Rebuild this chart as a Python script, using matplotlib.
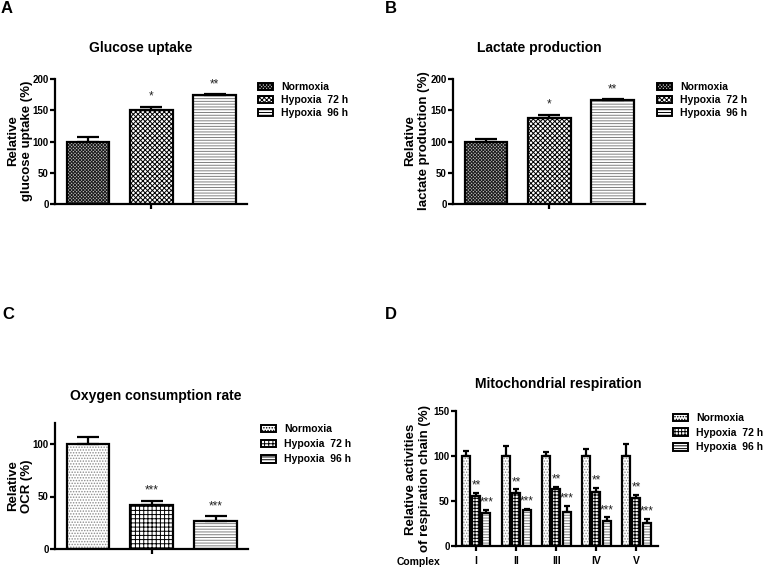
import matplotlib
matplotlib.use("Agg")
import matplotlib.pyplot as plt
import matplotlib.patches as mpatches
import numpy as np

plt.rcParams["font.family"] = ["Liberation Sans", "DejaVu Sans"]
plt.rcParams["font.weight"] = "bold"
plt.rcParams["hatch.linewidth"] = 0.7

groups = ["Normoxia", "Hypoxia  72 h", "Hypoxia  96 h"]

glucose = [100, 150, 174]
glucose_err = [8, 6, 2]
glucose_stars = ["", "*", "**"]

lactate = [100, 138, 166]
lactate_err = [4, 5, 2]
lactate_stars = ["", "*", "**"]

ocr = [100, 42, 27]
ocr_err = [7, 4, 4]
ocr_stars = ["", "***", "***"]

complexes = ["I", "II", "III", "IV", "V"]
resp_normoxia = [100, 100, 100, 100, 100]
resp_normoxia_err = [6, 11, 5, 8, 13]
resp_hyp72 = [56, 59, 63, 60, 53]
resp_hyp72_err = [3, 4, 3, 5, 4]
resp_hyp96 = [37, 40, 38, 28, 26]
resp_hyp96_err = [3, 1, 7, 4, 4]

# fill styles (face colour, hatch, hatch colour)
styles_ab = [("#bdbdbd", "xxxxxxxxxx", "#1a1a1a"),
             ("white", "xxxxxxx", "black"),
             ("white", "------", "#808080")]
styles_c = [("white", "......", "#8c8c8c"),
            ("white", "++++", "black"),
            ("white", "------", "#808080")]
styles_d = [("white", "......", "#8c8c8c"),
            ("white", "+++++", "black"),
            ("white", "------", "#808080")]

W, H = 767, 567
fig = plt.figure(figsize=(W / 100, H / 100), dpi=100)


def px_axes(left, top, right, bottom):
    return fig.add_axes([left / W, 1 - bottom / H, (right - left) / W, (bottom - top) / H])


def draw_bars(ax, x, heights, width, style):
    face, hatch, hcolor = style
    ax.bar(x, heights, width, color=face, edgecolor=hcolor, hatch=hatch,
           linewidth=0, zorder=2)
    ax.bar(x, heights, width, fill=False, edgecolor="black", linewidth=1.6, zorder=3)


def draw_err(ax, x, heights, err, cap):
    x = np.atleast_1d(x)
    ax.errorbar(x, heights, yerr=[np.zeros(len(x)), err], fmt="none", ecolor="black",
                elinewidth=1.6, capsize=cap, capthick=1.6, zorder=4)


def draw_stars(ax, x, heights, err, stars, off):
    for xi, h, e, s in zip(np.atleast_1d(x), heights, err, stars):
        if s:
            ax.annotate(s, (xi, h + e), xytext=(0, off), textcoords="offset points",
                        ha="center", va="baseline", fontsize=8.5, fontweight="normal",
                        color="#222222")


def style_axis(ax, ymax, yticks):
    for s in ["top", "right"]:
        ax.spines[s].set_visible(False)
    for s in ["left", "bottom"]:
        ax.spines[s].set_linewidth(1.6)
    ax.set_ylim(0, ymax)
    ax.set_yticks(yticks)
    ax.tick_params(width=1.6, length=3.5, labelsize=7, pad=1)


def make_legend(ax, styles, left, top, spacing):
    handles = [mpatches.Patch(facecolor=f, edgecolor="black", hatch=h, linewidth=1.4)
               for f, h, c in styles]
    ax.legend(handles, groups, loc="upper left", bbox_to_anchor=(left / W, 1 - top / H),
              bbox_transform=fig.transFigure, frameon=False, borderpad=0, borderaxespad=0,
              handlelength=1.45, handleheight=0.75, handletextpad=0.8,
              labelspacing=spacing, prop={"size": 7.5, "weight": "bold"})


def simple_panel(ax, values, err, stars, styles, ymax, yticks):
    x = np.arange(len(values))
    for i in range(len(values)):
        draw_bars(ax, x[i], values[i], 0.67, styles[i])
    draw_err(ax, x, values, err, 8)
    draw_stars(ax, x, values, err, stars, 5)
    style_axis(ax, ymax, yticks)
    ax.set_xlim(-0.52, 2.51)
    ax.set_xticks([1])
    ax.set_xticklabels([""])


# A
axA = px_axes(55, 79, 247, 204)
simple_panel(axA, glucose, glucose_err, glucose_stars, styles_ab, 200, [0, 50, 100, 150, 200])
make_legend(axA, styles_ab, 258, 82, 0.3)

# B
axB = px_axes(453, 79, 645, 204)
simple_panel(axB, lactate, lactate_err, lactate_stars, styles_ab, 200, [0, 50, 100, 150, 200])
make_legend(axB, styles_ab, 657, 82, 0.3)

# C
axC = px_axes(55, 423, 248, 549)
simple_panel(axC, ocr, ocr_err, ocr_stars, styles_c, 120, [0, 50, 100])
make_legend(axC, styles_c, 261, 424, 0.5)

# D
axD = px_axes(456, 411, 658, 546)
xd = np.arange(len(complexes))
off = 0.26
bw = 0.2
series = [(resp_normoxia, resp_normoxia_err, [""] * 5),
          (resp_hyp72, resp_hyp72_err, ["**"] * 5),
          (resp_hyp96, resp_hyp96_err, ["***"] * 5)]
for k, (vals, errs, st) in enumerate(series):
    xs = xd + (k - 1) * off
    draw_bars(axD, xs, vals, bw, styles_d[k])
    draw_err(axD, xs, vals, errs, 2)
    draw_stars(axD, xs, vals, errs, st, 3)
style_axis(axD, 150, [0, 50, 100, 150])
axD.set_xlim(-0.5, 4.54)
axD.set_xticks(xd)
axD.set_xticklabels(complexes, fontsize=7.5)
axD.tick_params(axis="x", pad=4)
make_legend(axD, styles_d, 673, 413, 0.45)
fig.text(418 / W, 1 - 562 / H, "Complex", ha="center", va="center", fontsize=7.5, fontweight="bold")

# titles
title_kw = dict(ha="center", va="center", fontsize=10, fontweight="bold")
fig.text(141 / W, 1 - 48 / H, "Glucose uptake", **title_kw)
fig.text(539 / W, 1 - 48 / H, "Lactate production", **title_kw)
fig.text(156 / W, 1 - 396 / H, "Oxygen consumption rate", **title_kw)
fig.text(558 / W, 1 - 384 / H, "Mitochondrial respiration", **title_kw)

# y labels
ylab_kw = dict(ha="center", va="center", rotation=90, fontsize=9.5, fontweight="bold",
               multialignment="center")
fig.text(20 / W, 1 - 141 / H, "Relative\nglucose uptake (%)", **ylab_kw)
fig.text(417 / W, 1 - 141 / H, "Relative\nlactate production (%)", **ylab_kw)
fig.text(20 / W, 1 - 486 / H, "Relative\nOCR (%)", **ylab_kw)
fig.text(418 / W, 1 - 479 / H, "Relative activities\nof respiration chain (%)", **ylab_kw)

# panel letters
let_kw = dict(ha="left", va="top", fontsize=12, fontweight="bold")
fig.text(1 / W, 1 - 1 / H, "A", **let_kw)
fig.text(385 / W, 1 - 1 / H, "B", **let_kw)
fig.text(2 / W, 1 - 307 / H, "C", **let_kw)
fig.text(385 / W, 1 - 307 / H, "D", **let_kw)

fig.savefig("out.png", dpi=100)
